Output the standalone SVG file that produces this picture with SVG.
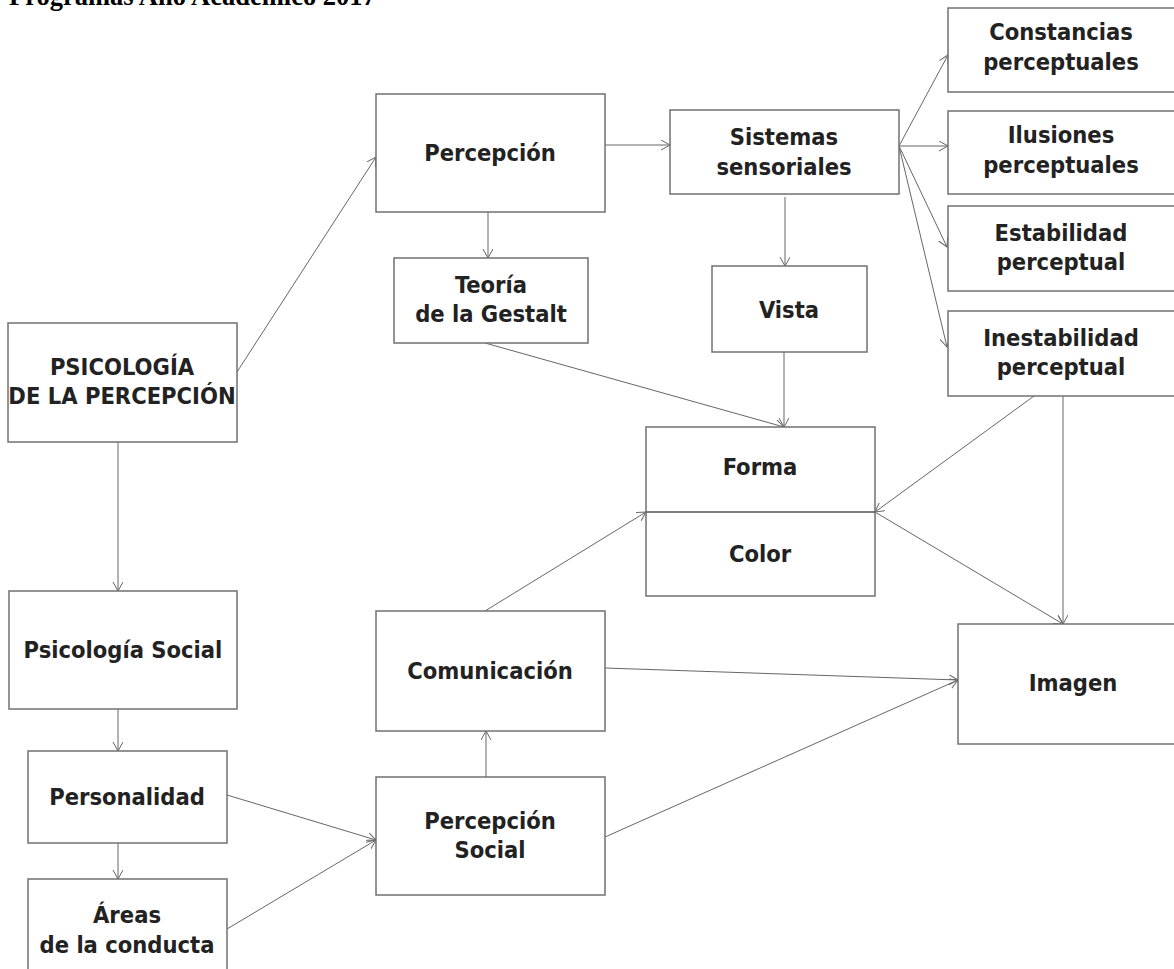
<svg xmlns="http://www.w3.org/2000/svg" width="1174" height="969" viewBox="0 0 1174 969">
<style>
.box{fill:#fff;stroke:#707070;stroke-width:1.5}
.t{font-family:"DejaVu Sans Condensed","DejaVu Sans",Verdana,sans-serif;font-stretch:condensed;font-weight:bold;font-size:23.5px;fill:#222;text-anchor:middle}
.c{stroke:#666;stroke-width:1;fill:none;marker-end:url(#ar)}
.hdr{font-family:"Liberation Serif","Times New Roman",serif;font-weight:bold;font-size:26.5px;fill:#000}
</style>
<defs>
<marker id="ar" markerUnits="userSpaceOnUse" markerWidth="12" markerHeight="12" refX="9" refY="5" orient="auto">
<path d="M0,0 L9,5 L0,10" fill="none" stroke="#666" stroke-width="1"/>
</marker>
</defs>
<rect width="1174" height="969" fill="#fff"/>
<text class="hdr" x="9" y="5">Programas Año Académico 2017</text>

<g id="connectors">
<line class="c" x1="237" y1="372" x2="376" y2="157"/>
<line class="c" x1="118" y1="442" x2="118" y2="591"/>
<line class="c" x1="118" y1="709" x2="118" y2="751"/>
<line class="c" x1="118" y1="843" x2="118" y2="879"/>
<line class="c" x1="227" y1="795" x2="376" y2="840"/>
<line class="c" x1="227" y1="929" x2="376" y2="840"/>
<line class="c" x1="486" y1="777" x2="486" y2="731"/>
<line class="c" x1="485" y1="611" x2="646" y2="512"/>
<line class="c" x1="605" y1="668" x2="958" y2="680"/>
<line class="c" x1="605" y1="837" x2="958" y2="680"/>
<line class="c" x1="488" y1="212" x2="488" y2="258"/>
<line class="c" x1="605" y1="145" x2="670" y2="145"/>
<line class="c" x1="785" y1="197" x2="785" y2="266"/>
<line class="c" x1="784" y1="352" x2="784" y2="427"/>
<line class="c" x1="485" y1="343" x2="784" y2="427"/>
<line class="c" x1="899" y1="146" x2="948" y2="55"/>
<line class="c" x1="899" y1="146" x2="948" y2="146"/>
<line class="c" x1="899" y1="146" x2="947" y2="247"/>
<line class="c" x1="899" y1="146" x2="947" y2="347"/>
<line class="c" x1="1034" y1="396" x2="875" y2="512"/>
<line class="c" x1="1063" y1="396" x2="1063" y2="624"/>
<line class="c" x1="875" y1="512" x2="1063" y2="624"/>
</g>

<g id="psicologia-percepcion">
<rect class="box" x="8" y="323" width="229" height="119"/>
<text class="t" x="122" y="375">PSICOLOGÍA</text>
<text class="t" x="122" y="404">DE LA PERCEPCIÓN</text>
</g>
<g id="percepcion">
<rect class="box" x="376" y="94" width="229" height="118"/>
<text class="t" x="490" y="161">Percepción</text>
</g>
<g id="teoria-gestalt">
<rect class="box" x="394" y="258" width="194" height="85"/>
<text class="t" x="491" y="293">Teoría</text>
<text class="t" x="491" y="322">de la Gestalt</text>
</g>
<g id="sistemas-sensoriales">
<rect class="box" x="670" y="110" width="229" height="84"/>
<text class="t" x="784" y="145">Sistemas</text>
<text class="t" x="784" y="175">sensoriales</text>
</g>
<g id="vista">
<rect class="box" x="712" y="266" width="155" height="86"/>
<text class="t" x="789" y="318">Vista</text>
</g>
<g id="constancias">
<rect class="box" x="948" y="8" width="240" height="84"/>
<text class="t" x="1061" y="40">Constancias</text>
<text class="t" x="1061" y="70">perceptuales</text>
</g>
<g id="ilusiones">
<rect class="box" x="948" y="111" width="240" height="83"/>
<text class="t" x="1061" y="143">Ilusiones</text>
<text class="t" x="1061" y="173">perceptuales</text>
</g>
<g id="estabilidad">
<rect class="box" x="948" y="206" width="240" height="85"/>
<text class="t" x="1061" y="241">Estabilidad</text>
<text class="t" x="1061" y="270">perceptual</text>
</g>
<g id="inestabilidad">
<rect class="box" x="948" y="311" width="240" height="85"/>
<text class="t" x="1061" y="346">Inestabilidad</text>
<text class="t" x="1061" y="375">perceptual</text>
</g>
<g id="forma-color">
<rect class="box" x="646" y="427" width="229" height="169"/>
<line x1="646" y1="512" x2="875" y2="512" stroke="#555" stroke-width="1.5"/>
<text class="t" x="760" y="475">Forma</text>
<text class="t" x="760" y="562">Color</text>
</g>
<g id="imagen">
<rect class="box" x="958" y="624" width="230" height="120"/>
<text class="t" x="1073" y="691">Imagen</text>
</g>
<g id="psicologia-social">
<rect class="box" x="9" y="591" width="228" height="118"/>
<text class="t" x="123" y="658">Psicología Social</text>
</g>
<g id="personalidad">
<rect class="box" x="28" y="751" width="199" height="92"/>
<text class="t" x="127" y="805">Personalidad</text>
</g>
<g id="areas-conducta">
<rect class="box" x="28" y="879" width="199" height="100"/>
<text class="t" x="127" y="923">Áreas</text>
<text class="t" x="127" y="953">de la conducta</text>
</g>
<g id="comunicacion">
<rect class="box" x="376" y="611" width="229" height="120"/>
<text class="t" x="490" y="679">Comunicación</text>
</g>
<g id="percepcion-social">
<rect class="box" x="376" y="777" width="229" height="118"/>
<text class="t" x="490" y="829">Percepción</text>
<text class="t" x="490" y="858">Social</text>
</g>
</svg>
